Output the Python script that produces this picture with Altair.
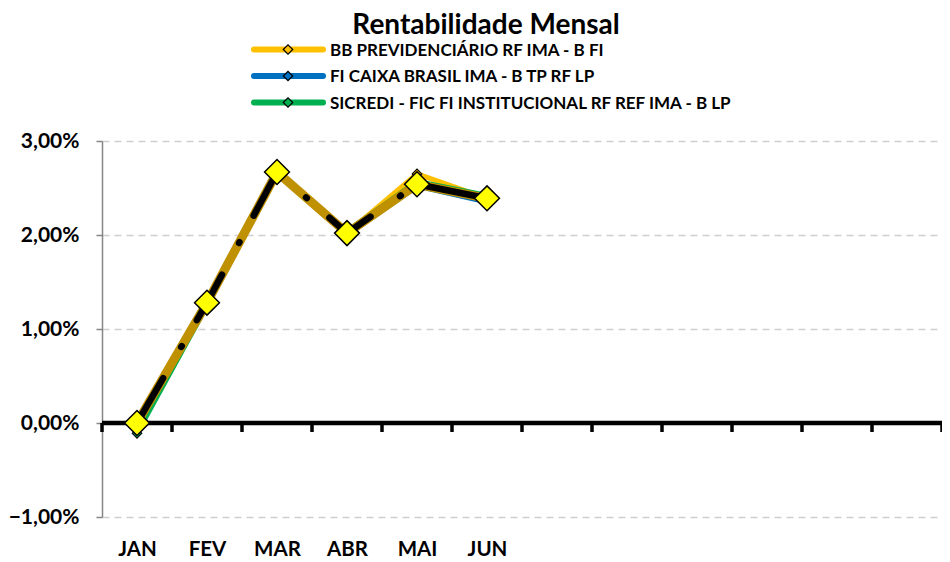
import altair as alt
import pandas as pd

# ---------------- data ----------------
months = ["JAN", "FEV", "MAR", "ABR", "MAI", "JUN", "JUL", "AGO", "SET", "OUT", "NOV", "DEZ"]
shown_months = months[:6]

series_names = [
    "BB PREVIDENCIÁRIO RF IMA - B FI",
    "FI CAIXA BRASIL IMA - B TP RF LP",
    "SICREDI - FIC FI INSTITUCIONAL RF REF IMA - B LP",
]
series_colors = ["#FFC000", "#0070C0", "#00B050"]

# monthly return, in %
bb = [0.00, 1.29, 2.68, 2.02, 2.65, 2.39]
caixa = [-0.05, 1.27, 2.66, 2.00, 2.52, 2.35]
sicredi = [-0.11, 1.25, 2.65, 2.04, 2.57, 2.42]
carteira = [0.00, 1.28, 2.67, 2.02, 2.54, 2.39]

y_ticks = [-1, 0, 1, 2, 3]

# ---------------- tables ----------------
rows = []
for name, vals in zip(series_names, [bb, caixa, sicredi]):
    for i, v in enumerate(vals):
        rows.append({"serie": name, "i": i, "mes": months[i], "v": v})
df = pd.DataFrame(rows)
df_cart = pd.DataFrame({"i": list(range(len(carteira))), "v": carteira})
df_bound = pd.DataFrame({"b": [k - 0.5 for k in range(len(months) + 1)]})
one = pd.DataFrame({"a": [0]})

FONT = "Lato"

label_arr = "[" + ",".join("'%s'" % m for m in months) + "]"
x_axis = alt.Axis(
    values=list(range(len(shown_months))),
    labelExpr=label_arr + "[datum.value]",
    ticks=False, domain=False, grid=False,
    labelFont=FONT, labelFontWeight="bold", labelFontSize=20.5,
    labelColor="black", labelPadding=22, title=None,
)
y_axis = alt.Axis(
    values=y_ticks,
    labelExpr="replace(format(datum.value, '.2f'), '.', ',') + '%'",
    labelFont=FONT, labelFontWeight="bold", labelFontSize=21, labelColor="black",
    labelPadding=17, tickSize=6, tickColor="#868686", tickWidth=1.5,
    domainColor="#868686", domainWidth=1.5,
    grid=True, gridColor="#D0D0D0", gridDash=[7, 5], gridWidth=1.5,
    title=None,
)
x_scale = alt.Scale(domain=[-0.5, len(months) - 0.5], nice=False, zero=False)
y_scale = alt.Scale(domain=[-1, 3], nice=False, zero=False)

xe = alt.X("i:Q", scale=x_scale, axis=x_axis)
ye = alt.Y("v:Q", scale=y_scale, axis=y_axis)

# ---------------- layers ----------------
series_lines = alt.Chart(df).mark_line(
    strokeWidth=5,
    point=alt.OverlayMarkDef(shape="diamond", filled=True, size=90, stroke="black", strokeWidth=1.2),
).encode(
    x=xe, y=ye,
    color=alt.Color("serie:N", scale=alt.Scale(domain=series_names, range=series_colors), legend=None),
    order=alt.Order("i:Q"),
)

brown = alt.Chart(df_cart).mark_line(strokeWidth=9, color="#BF9000").encode(x=xe, y=ye)
black = alt.Chart(df_cart).mark_line(
    strokeWidth=6.5, color="black", strokeDash=[52, 36, 1, 30], strokeCap="round"
).encode(x=xe, y=ye)
diamonds = alt.Chart(df_cart).mark_point(
    shape="diamond", filled=True, fill="#FFFF00", stroke="black", strokeWidth=1.5, size=620, opacity=1
).encode(x=xe, y=ye)

zero_line = alt.Chart(one).mark_rule(color="black", strokeWidth=4.5).encode(
    y=alt.datum(0, scale=y_scale, axis=y_axis)
)
ticks = alt.Chart(df_bound).mark_rule(color="black", strokeWidth=3.5, y2Offset=9).encode(
    x=alt.X("b:Q", scale=x_scale, axis=x_axis),
    y=alt.datum(0), y2=alt.datum(0),
)

# title and legend (decoration)
title = alt.Chart(one).mark_text(
    text="Rentabilidade Mensal", font=FONT, fontWeight="bold", fontSize=28,
    align="center", baseline="alphabetic", color="black",
).encode(x=alt.value(486 - 102), y=alt.value(33.5 - 141))

legend_layers = []
for r, (name, col) in enumerate(zip(series_names, series_colors)):
    yy = 49.5 + 26.5 * r - 141
    legend_layers.append(
        alt.Chart(one).mark_rule(color=col, strokeWidth=6, strokeCap="round").encode(
            x=alt.value(254 - 102), x2=alt.value(323 - 102), y=alt.value(yy)
        )
    )
    legend_layers.append(
        alt.Chart(one).mark_point(
            shape="diamond", filled=True, fill=col, stroke="black", strokeWidth=1.2, size=90, opacity=1
        ).encode(x=alt.value(288 - 102), y=alt.value(yy))
    )
    legend_layers.append(
        alt.Chart(one).mark_text(
            text=name, font=FONT, fontWeight="bold", fontSize=17, align="left",
            baseline="middle", color="black",
        ).encode(x=alt.value(330 - 102), y=alt.value(yy + 1))
    )

chart = alt.layer(
    zero_line, ticks, series_lines, brown, black, diamonds, title, *legend_layers
).properties(
    width=840, height=376,
    padding={"left": 94, "top": 133, "right": 0, "bottom": 45},
    autosize=alt.AutoSizeParams(type="none"),
).configure_view(stroke=None)

chart.save("out.html", embed_options={"renderer": "svg", "actions": False})
